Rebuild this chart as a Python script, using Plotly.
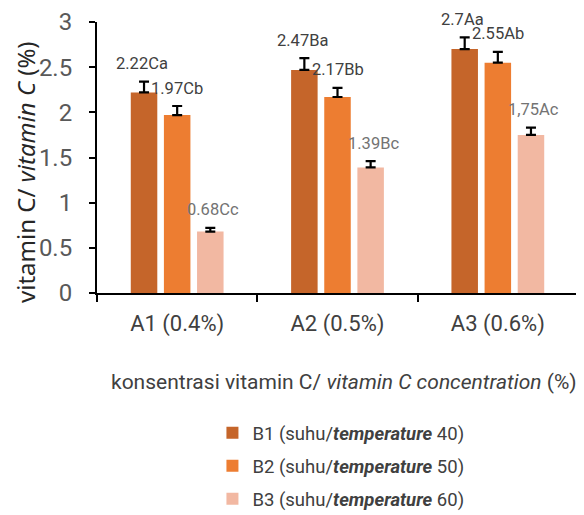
import plotly.graph_objects as go

categories = ["A1 (0.4%)", "A2 (0.5%)", "A3 (0.6%)"]
series_names = [
    "B1 (suhu/<b><i>temperature</i></b> 40)",
    "B2 (suhu/<b><i>temperature</i></b> 50)",
    "B3 (suhu/<b><i>temperature</i></b> 60)",
]
b1_values = [2.22, 2.47, 2.70]
b2_values = [1.97, 2.17, 2.55]
b3_values = [0.68, 1.39, 1.75]
b1_errors = [0.12, 0.13, 0.13]
b2_errors = [0.10, 0.10, 0.12]
b3_errors = [0.04, 0.07, 0.08]
b1_labels = ["2.22Ca", "2.47Ba", "2.7Aa"]
b2_labels = ["1.97Cb", "2.17Bb", "2.55Ab"]
b3_labels = ["0.68Cc", "1.39Bc", "1,75Ac"]
y_ticks = [0, 0.5, 1, 1.5, 2, 2.5, 3]
y_tick_text = ["0", "0.5", "1", "1.5", "2", "2.5", "3"]

colors = ["#C5652A", "#ED7D31", "#F2B8A2"]
label_colors = ["#404040", "#404040", "#737373"]
FONT = "Roboto, sans-serif"

values = [b1_values, b2_values, b3_values]
errors = [b1_errors, b2_errors, b3_errors]
labels = [b1_labels, b2_labels, b3_labels]

fig = go.Figure()
for i in range(3):
    fig.add_trace(go.Bar(
        x=categories, y=values[i], name=series_names[i],
        legendgroup="g%d" % i,
        marker=dict(color=colors[i], line=dict(width=0)),
        error_y=dict(type="data", symmetric=False, array=errors[i], arrayminus=[0]*3,
                     color="black", thickness=2.2, width=5),
        offsetgroup=str(i),
    ))

# data labels
for i in range(3):
    for j, c in enumerate(categories):
        fig.add_annotation(
            x=c, y=values[i][j] + errors[i][j], xref="x", yref="y",
            text=labels[i][j], showarrow=False, yshift=18,
            xshift=(i - 1) * 35.5,
            font=dict(family=FONT, size=16.5, color=label_colors[i]),
        )

# page body adds an 8px offset; figure is sized/margined to compensate
fig.update_layout(
    width=576, height=507,
    margin=dict(l=89, r=6, t=14, b=222, autoexpand=False),
    paper_bgcolor="white", plot_bgcolor="white",
    barmode="group", bargap=0.38, bargroupgap=0.2,
    showlegend=True,
    legend=dict(x=0.24, y=-0.447, xanchor="left", yanchor="top",
                font=dict(family=FONT, size=18.5, color="#404040"),
                itemwidth=30, tracegroupgap=6, bgcolor="rgba(0,0,0,0)"),
    font=dict(family=FONT),
)
fig.update_xaxes(
    automargin=False,
    showline=True, linecolor="black", linewidth=2,
    ticks="outside", tickson="boundaries", ticklen=7, tickwidth=2, tickcolor="black",
    tickfont=dict(family=FONT, size=22, color="#404040"),
    ticklabelstandoff=10,
    showgrid=False,
)
fig.update_yaxes(
    automargin=False,
    range=[0, 3], tickvals=y_ticks, ticktext=y_tick_text,
    showline=True, linecolor="black", linewidth=2,
    ticks="outside", ticklen=6, tickwidth=2, tickcolor="black",
    tickfont=dict(family=FONT, size=24, color="#595959"),
    ticklabelstandoff=12,
    showgrid=False, zeroline=False,
)
fig.add_annotation(
    x=(25 - 97) / 481, y=(293 - 172) / 271, xref="paper", yref="paper",
    xanchor="center", yanchor="middle",
    text="vitamin C/ <i>vitamin C</i> (%)", showarrow=False, textangle=-90,
    font=dict(family="Noto Sans, sans-serif", size=24, color="#262626"),
)
fig.add_annotation(
    x=(344 - 97) / 481, y=(293 - 382) / 271, xref="paper", yref="paper",
    xanchor="center", yanchor="middle",
    text="konsentrasi vitamin C/ <i>vitamin C concentration</i> (%)", showarrow=False,
    font=dict(family=FONT, size=21, color="#404040"),
)

fig.write_html("out.html")
